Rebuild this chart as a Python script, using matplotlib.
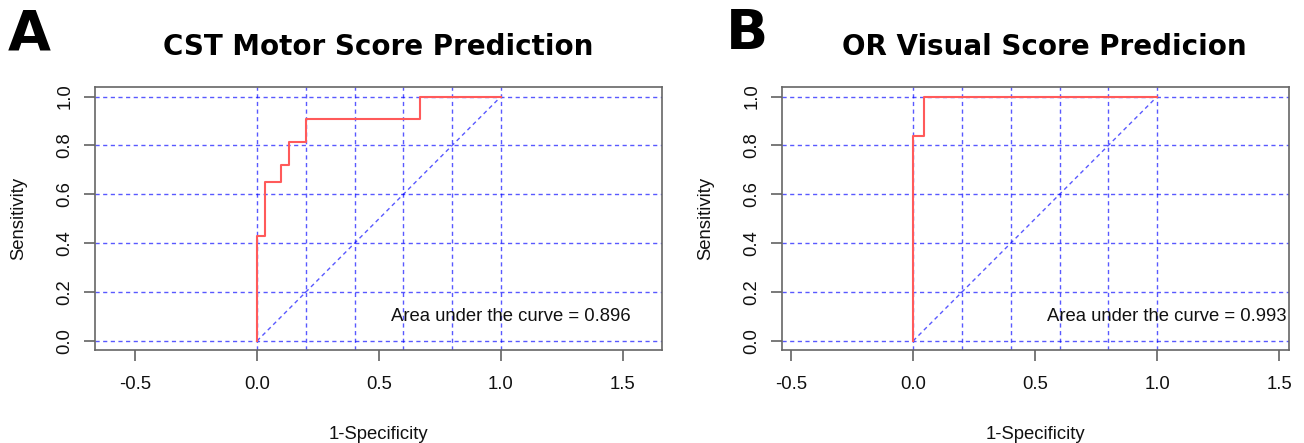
import matplotlib
matplotlib.use("Agg")
import matplotlib.pyplot as plt

# ROC curve A (1-specificity, sensitivity)
fpr_a = [0.0, 0.0, 0.033, 0.033, 0.1, 0.1, 0.133, 0.133, 0.2, 0.2, 0.667, 0.667, 1.0]
tpr_a = [0.0, 0.43, 0.43, 0.65, 0.65, 0.72, 0.72, 0.815, 0.815, 0.91, 0.91, 1.0, 1.0]
auc_a = 0.896

# ROC curve B
fpr_b = [0.0, 0.0, 0.044, 0.044, 1.0]
tpr_b = [0.0, 0.84, 0.84, 1.0, 1.0]
auc_b = 0.993

titles = ["CST Motor Score Prediction", "OR Visual Score Predicion"]
panel_letters = ["A", "B"]
x_ticks = [-0.5, 0.0, 0.5, 1.0, 1.5]
y_ticks = [0.0, 0.2, 0.4, 0.6, 0.8, 1.0]
grid_vals = [0.0, 0.2, 0.4, 0.6, 0.8, 1.0]

W, H = 1304, 443
fig = plt.figure(figsize=(W / 100, H / 100), dpi=100)

txt_font = ["Liberation Sans", "DejaVu Sans"]
title_font = ["DejaVu Sans"]
fs = 13.3

# panel boxes in pixels: left, right, top, bottom ; x-limits (R keeps asp=1) ; title centre
panels = [
    dict(box=(95, 662, 87, 350), xlim=(-0.664, 1.66), fpr=fpr_a, tpr=tpr_a, auc=auc_a, tx=378),
    dict(box=(782, 1289, 87, 350), xlim=(-0.537, 1.54), fpr=fpr_b, tpr=tpr_b, auc=auc_b, tx=1044),
]

for i, p in enumerate(panels):
    l, r, t, b = p["box"]
    ax = fig.add_axes([l / W, 1 - b / H, (r - l) / W, (b - t) / H])
    ax.set_xlim(*p["xlim"])
    ax.set_ylim(-0.037, 1.039)

    dash = (0, (3, 2.5))
    for g in grid_vals:
        ax.axvline(g, color="#0000ff", lw=1.0, ls=dash, alpha=0.65, zorder=1)
        ax.axhline(g, color="#0000ff", lw=1.0, ls=dash, alpha=0.65, zorder=1)
    ax.plot([0, 1], [0, 1], color="#0000ff", lw=1.0, ls=dash, alpha=0.65, zorder=1)

    ax.plot(p["fpr"], p["tpr"], color="#ff5a5a", lw=1.5, zorder=2)

    ax.text(1.04, 0.10, f"Area under the curve = {p['auc']}", ha="center", va="center",
            fontsize=fs, family=txt_font, color="#111111")

    ax.set_xticks(x_ticks)
    ax.set_xticklabels([f"{v:.1f}" if v >= 0 else "-0.5" for v in x_ticks])
    ax.set_yticks(y_ticks)
    ax.set_yticklabels([f"{v:.1f}" for v in y_ticks], rotation=90, va="center")
    ax.tick_params(axis="x", pad=10.5)
    ax.tick_params(axis="y", pad=7.5)
    ax.tick_params(direction="out", length=8.2, width=1.1, color="#555555",
                   labelsize=fs, labelcolor="#111111")
    for lab in ax.get_xticklabels() + ax.get_yticklabels():
        lab.set_family(txt_font)
    for s in ax.spines.values():
        s.set_color("#666666")
        s.set_linewidth(1.2)

    ax.set_xlabel("1-Specificity", fontsize=fs, family=txt_font, labelpad=24, color="#111111")
    ax.set_ylabel("Sensitivity", fontsize=fs, family=txt_font, labelpad=21, color="#111111")

    fig.text(p["tx"] / W, 1 - 47 / H, titles[i], ha="center", va="center", fontsize=20,
             fontweight="bold", family=title_font)

fig.text(29 / W, 1 - 34 / H, panel_letters[0], ha="center", va="center", fontsize=40,
         fontweight="bold", family=title_font)
fig.text(747 / W, 1 - 34 / H, panel_letters[1], ha="center", va="center", fontsize=40,
         fontweight="bold", family=title_font)

fig.savefig("out.png", dpi=100)
